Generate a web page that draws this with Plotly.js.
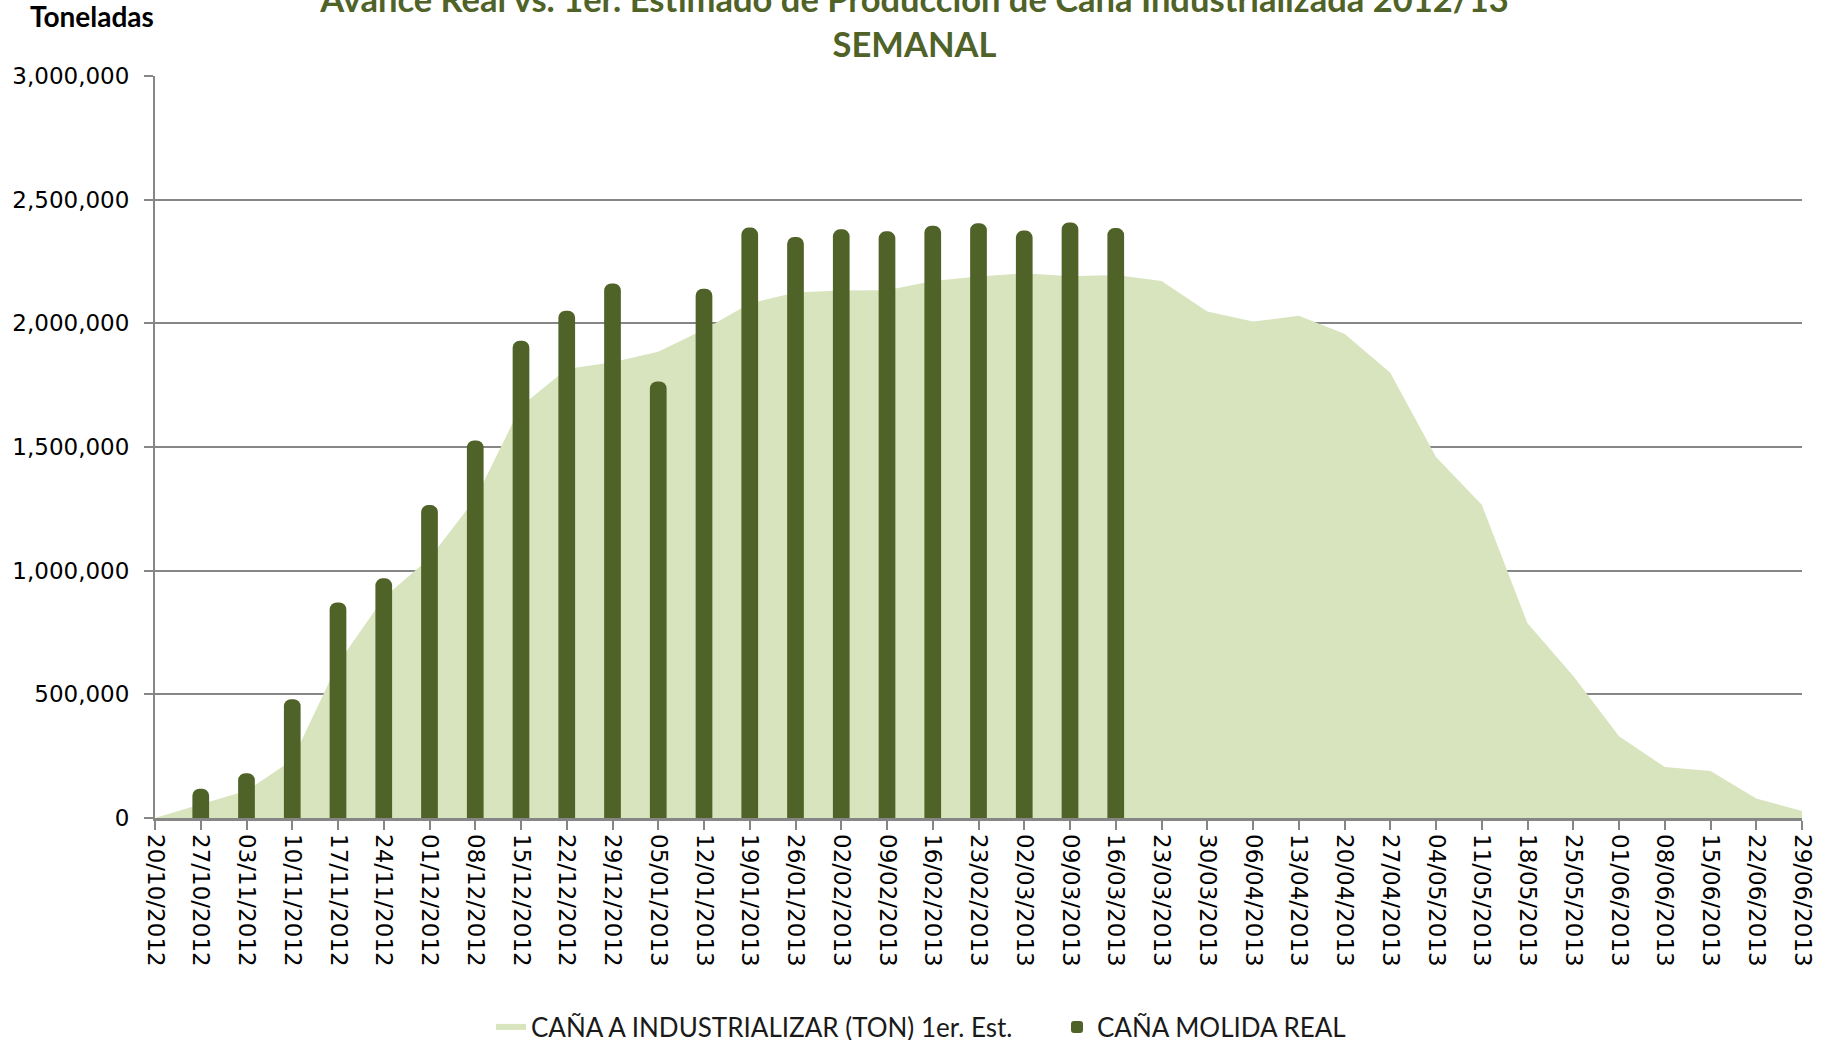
<!DOCTYPE html>
<html>
<head>
<meta charset="utf-8">
<script src="https://cdn.plot.ly/plotly-3.0.1.min.js"></script>
<style>
html,body{margin:0;padding:0;background:#fff;}
#chart{width:1829px;height:1040px;}
</style>
</head>
<body>
<div id="chart"></div>
<script>
// Weekly categories
const weeks = [
  '20/10/2012','27/10/2012','03/11/2012','10/11/2012','17/11/2012','24/11/2012',
  '01/12/2012','08/12/2012','15/12/2012','22/12/2012','29/12/2012','05/01/2013',
  '12/01/2013','19/01/2013','26/01/2013','02/02/2013','09/02/2013','16/02/2013',
  '23/02/2013','02/03/2013','09/03/2013','16/03/2013','23/03/2013','30/03/2013',
  '06/04/2013','13/04/2013','20/04/2013','27/04/2013','04/05/2013','11/05/2013',
  '18/05/2013','25/05/2013','01/06/2013','08/06/2013','15/06/2013','22/06/2013',
  '29/06/2013'
];

// CAÑA A INDUSTRIALIZAR (TON) 1er. Est.
const estimado = [
  0, 56000, 110000, 234000, 625000, 890000,
  1050000, 1290000, 1665000, 1815000, 1843000, 1885000,
  1975000, 2080000, 2125000, 2133000, 2134000, 2171000,
  2189000, 2202000, 2190000, 2195000, 2171000, 2048000,
  2007000, 2031000, 1958000, 1800000, 1460000, 1267000,
  787000, 574000, 331000, 206000, 190000, 79000,
  28000
];

// CAÑA MOLIDA REAL
const realWeeks = [
  '27/10/2012','03/11/2012','10/11/2012','17/11/2012','24/11/2012','01/12/2012',
  '08/12/2012','15/12/2012','22/12/2012','29/12/2012','05/01/2013','12/01/2013',
  '19/01/2013','26/01/2013','02/02/2013','09/02/2013','16/02/2013','23/02/2013',
  '02/03/2013','09/03/2013','16/03/2013'
];
const real = [
  118000, 181000, 480000, 871000, 969000, 1265000,
  1526000, 1930000, 2051000, 2161000, 1765000, 2140000,
  2387000, 2349000, 2380000, 2372000, 2395000, 2405000,
  2375000, 2408000, 2385000
];

const yTicks = [0, 500000, 1000000, 1500000, 2000000, 2500000, 3000000];

const dark = '#4F6228';
const light = '#D7E4BD';
const gray = '#868686';

const traces = [
  {
    type: 'scatter', mode: 'none', name: 'CAÑA A INDUSTRIALIZAR (TON) 1er. Est.',
    x: weeks, y: estimado, fill: 'tozeroy', fillcolor: light,
    xaxis: 'x', yaxis: 'y'
  },
  {
    type: 'bar', name: 'CAÑA MOLIDA REAL',
    x: realWeeks, y: real, width: 0.365,
    marker: {color: dark, cornerradius: 7, line: {width: 0}},
    xaxis: 'x', yaxis: 'y2'
  }
];

const layout = {
  width: 1829, height: 1040,
  paper_bgcolor: '#fff', plot_bgcolor: 'rgba(0,0,0,0)',
  margin: {l: 155, r: 27, t: 76, b: 222},
  font: {family: 'DejaVu Sans', color: '#000'},
  title: {
    text: 'Avance Real vs. 1er. Estimado de Producción de Caña Industrializada 2012/13<br>SEMANAL',
    font: {family: 'Lato', size: 34.5, color: dark, weight: 'bold'},
    x: 0.5, xref: 'container', xanchor: 'center',
    y: 1 - 12/1040, yref: 'container', yanchor: 'middle'
  },
  showlegend: true,
  legend: {
    orientation: 'h', xref: 'container', yref: 'container',
    x: 1057/1829, xanchor: 'center', y: 13/1040, yanchor: 'middle',
    font: {family: 'Lato', size: 26, color: '#1a1a1a'},
    entrywidth: 521, entrywidthmode: 'pixels', traceorder: 'normal'
  },
  xaxis: {
    type: 'category', categoryorder: 'array', categoryarray: weeks,
    range: [0, 36], tickangle: 90, tickvals: weeks, ticktext: weeks,
    tickfont: {family: 'DejaVu Sans', size: 23, color: '#000'},
    ticks: 'outside', ticklen: 9, tickwidth: 2, tickcolor: gray,
    showline: true, linecolor: gray, linewidth: 2.5,
    showgrid: false, zeroline: false, fixedrange: true
  },
  yaxis: {
    range: [0, 3000000], tickvals: yTicks, tickformat: ',d',
    tickfont: {family: 'DejaVu Sans', size: 23, color: '#000'},
    ticks: 'outside', ticklen: 9, tickwidth: 2, tickcolor: gray,
    ticklabelstandoff: 10,
    showline: true, linecolor: gray, linewidth: 2,
    showgrid: true, gridcolor: gray, gridwidth: 2,
    zeroline: false, fixedrange: true
  },
  yaxis2: {
    overlaying: 'y', range: [0, 3000000], visible: false,
    showgrid: false, zeroline: false, fixedrange: true
  },
  annotations: [{
    text: 'Toneladas', xref: 'paper', yref: 'paper',
    x: -155/1647 + 28/1647, y: 1 + (76-16)/742,
    xanchor: 'left', yanchor: 'middle', showarrow: false,
    font: {family: 'Lato', size: 28, color: '#000', weight: 'bold'}
  }]
};

Plotly.newPlot('chart', traces, layout, {staticPlot: true, displayModeBar: false});
</script>
</body>
</html>
